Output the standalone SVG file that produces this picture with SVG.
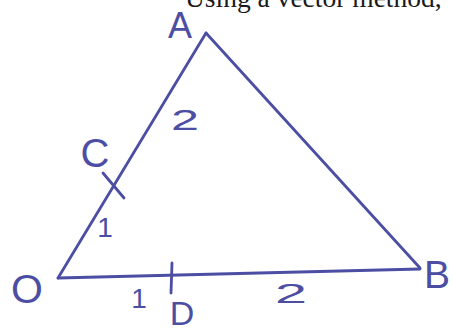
<svg xmlns="http://www.w3.org/2000/svg" width="452" height="332" viewBox="0 0 452 332">
<style>
.ln{stroke:#4c4ea3;stroke-width:2.8;stroke-linecap:round;fill:none}
.lb{font-family:"Liberation Sans",Arial,sans-serif;fill:#4c4ea3;text-anchor:middle}
.pr{font-family:"Liberation Serif","Times New Roman",serif;fill:#1a1a1a}
</style>
<rect width="452" height="332" fill="#ffffff"/>
<text class="pr" x="185" y="7" font-size="27.5">Using a vector method,</text>
<g id="connectors">
<line class="ln" x1="58" y1="278" x2="206" y2="33"/>
<line class="ln" x1="206" y1="33" x2="420" y2="268"/>
<line class="ln" x1="58" y1="278" x2="420" y2="269"/>
<text class="lb" x="185" y="130" font-size="30" textLength="28" lengthAdjust="spacingAndGlyphs">2</text>
<text class="lb" x="105" y="237" font-size="28">1</text>
<text class="lb" x="139" y="308" font-size="28">1</text>
<text class="lb" x="291" y="303" font-size="28" textLength="32" lengthAdjust="spacingAndGlyphs">2</text>
</g>
<g id="node-A"><text class="lb" x="180" y="38" font-size="36">A</text></g>
<g id="node-B"><text class="lb" x="437" y="288" font-size="39">B</text></g>
<g id="node-O"><text class="lb" x="27" y="303" font-size="41">O</text></g>
<g id="node-C"><line class="ln" x1="103" y1="173" x2="124" y2="198"/><text class="lb" x="95" y="167" font-size="40">C</text></g>
<g id="node-D"><line class="ln" x1="172" y1="263" x2="171" y2="293"/><text class="lb" x="182" y="325" font-size="34">D</text></g>
</svg>
